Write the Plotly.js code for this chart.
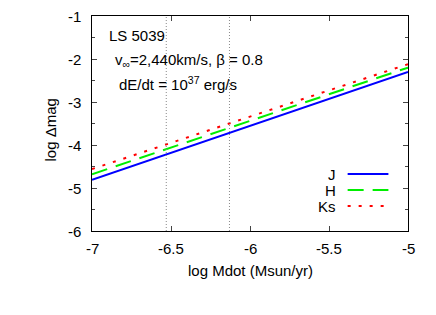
<!DOCTYPE html>
<html><head><meta charset="utf-8">
<script src="https://cdn.plot.ly/plotly-3.0.1.min.js"></script>
<style>html,body{margin:0;padding:0;background:#fff}#c{width:436px;height:315px}</style>
</head><body><div id="c"></div>
<script>
const mdot = [-7, -6.5, -6, -5.5, -5];
const magJ = [-4.81, -4.18, -3.56, -2.93, -2.30];
const magH = [-4.68, -4.06, -3.44, -2.82, -2.20];
const magKs = [-4.56, -3.95, -3.34, -2.73, -2.12];
const vlines = [-6.53, -6.13];
const xTicks = [-7, -6.5, -6, -5.5, -5];
const yTicks = [-6, -5, -4, -3, -2, -1];
const names = ['J', 'H', 'Ks'];
const colors = ['#0000ff', '#00ee00', '#ff0000'];
const dashes = ['solid', '16px,9px', '3px,8px'];
const FONT = 'Liberation Sans, Arial, sans-serif';
const FS = 15;

const series = [magJ, magH, magKs];
const traces = series.map((y, i) => ({
  x: mdot, y: y, mode: 'lines', name: names[i],
  line: {color: colors[i], width: 2, dash: dashes[i]}, showlegend: false
}));

const shapes = vlines.map(v => ({type: 'line', xref: 'x', yref: 'paper', x0: v, x1: v, y0: 0, y1: 1,
  line: {color: '#888', width: 1, dash: '1px,2px'}}));
// legend samples
names.forEach((n, i) => {
  const yp = 0.265 - i * 0.0744;
  shapes.push({type: 'line', xref: 'paper', yref: 'paper', x0: 0.809, x1: 0.938, y0: yp, y1: yp,
    line: {color: colors[i], width: 2, dash: dashes[i]}});
});

const txt = (o) => Object.assign({showarrow: false, font: {family: FONT, size: FS, color: '#000'}}, o);
const annotations = [
  {text: 'LS 5039', x: 0.047, y: 0.907, xanchor: 'left'},
  {text: 'v<sub>∞</sub>=2,440km/s, β = 0.8', x: 0.066, y: 0.791, xanchor: 'left'},
  {text: 'dE/dt = 10<sup>37</sup> erg/s', x: 0.079, y: 0.684, xanchor: 'left'}
].map(a => txt(Object.assign({xref: 'paper', yref: 'paper', yanchor: 'middle'}, a)));
names.forEach((n, i) => {
  annotations.push(txt({text: n, xref: 'paper', yref: 'paper', x: 0.778, y: 0.265 - i * 0.0744,
    xanchor: 'right', yanchor: 'middle'}));
});
// tick labels
xTicks.forEach(v => annotations.push(txt({text: String(v), xref: 'x', yref: 'paper', x: v, y: 0, yshift: -17,
  xanchor: 'center', yanchor: 'middle'})));
yTicks.forEach(v => annotations.push(txt({text: String(v), xref: 'paper', yref: 'y', x: 0, y: v, xshift: -9,
  xanchor: 'right', yanchor: 'middle'})));
// axis titles
annotations.push(txt({text: 'log Mdot (Msun/yr)', xref: 'paper', yref: 'paper', x: 0.5, y: 0, yshift: -39,
  xanchor: 'center', yanchor: 'middle'}));
annotations.push(txt({text: 'log Δmag', xref: 'paper', yref: 'paper', x: 0, y: 0.5, xshift: -42, yshift: -7, textangle: -90,
  xanchor: 'center', yanchor: 'middle'}));

const layout = {
  width: 436, height: 315,
  margin: {l: 92, r: 28, t: 16, b: 84},
  paper_bgcolor: '#fff', plot_bgcolor: '#fff',
  font: {family: FONT, size: FS, color: '#000'},
  xaxis: {range: [-7, -5], tickvals: xTicks, showticklabels: false, ticks: 'inside', ticklen: 5,
    showline: true, mirror: 'ticks', linecolor: '#000', linewidth: 1.2, showgrid: false, zeroline: false},
  yaxis: {range: [-6, -1], tickvals: yTicks, showticklabels: false, ticks: 'inside', ticklen: 5,
    showline: true, mirror: 'ticks', linecolor: '#000', linewidth: 1.2, showgrid: false, zeroline: false,
    minor: {dtick: 0.5, ticks: 'inside', ticklen: 3}},
  shapes: shapes,
  annotations: annotations,
  showlegend: false
};
Plotly.newPlot('c', traces, layout, {staticPlot: true, displayModeBar: false});
</script></body></html>
